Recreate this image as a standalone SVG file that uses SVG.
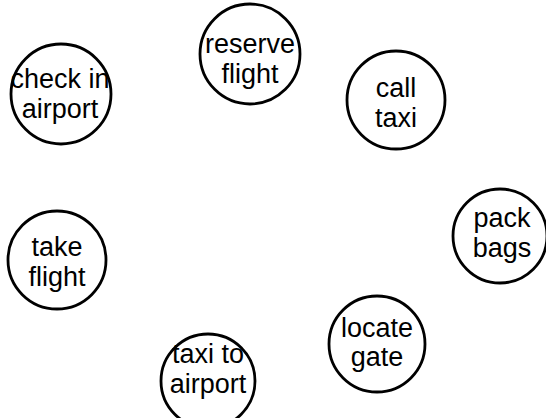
<svg xmlns="http://www.w3.org/2000/svg" width="546" height="418" viewBox="0 0 546 418">
  <style>
    .node circle { fill: #ffffff; stroke: #000000; stroke-width: 2.8; }
    .node text { font-family: "Liberation Sans", Arial, sans-serif; font-size: 27px; fill: #000000; text-anchor: middle; }
  </style>
  <rect width="546" height="418" fill="#ffffff"/>
  <g id="connectors"></g>
  <g id="reserve-flight" class="node">
    <circle cx="250" cy="54" r="50"/>
    <text x="250" y="53">reserve</text>
    <text x="250" y="83">flight</text>
  </g>
  <g id="check-in-airport" class="node">
    <circle cx="61" cy="94" r="50"/>
    <text x="60" y="88">check in</text>
    <text x="60" y="118">airport</text>
  </g>
  <g id="call-taxi" class="node">
    <circle cx="396" cy="100" r="49"/>
    <text x="396" y="97">call</text>
    <text x="396" y="127">taxi</text>
  </g>
  <g id="take-flight" class="node">
    <circle cx="57" cy="260" r="49"/>
    <text x="57" y="256">take</text>
    <text x="57" y="286">flight</text>
  </g>
  <g id="pack-bags" class="node">
    <circle cx="500" cy="236" r="47"/>
    <text x="502" y="227">pack</text>
    <text x="502" y="257">bags</text>
  </g>
  <g id="taxi-to-airport" class="node">
    <circle cx="208" cy="381" r="47"/>
    <text x="208" y="363">taxi to</text>
    <text x="208" y="393">airport</text>
  </g>
  <g id="locate-gate" class="node">
    <circle cx="377" cy="344" r="48"/>
    <text x="377" y="337">locate</text>
    <text x="377" y="366">gate</text>
  </g>
</svg>
